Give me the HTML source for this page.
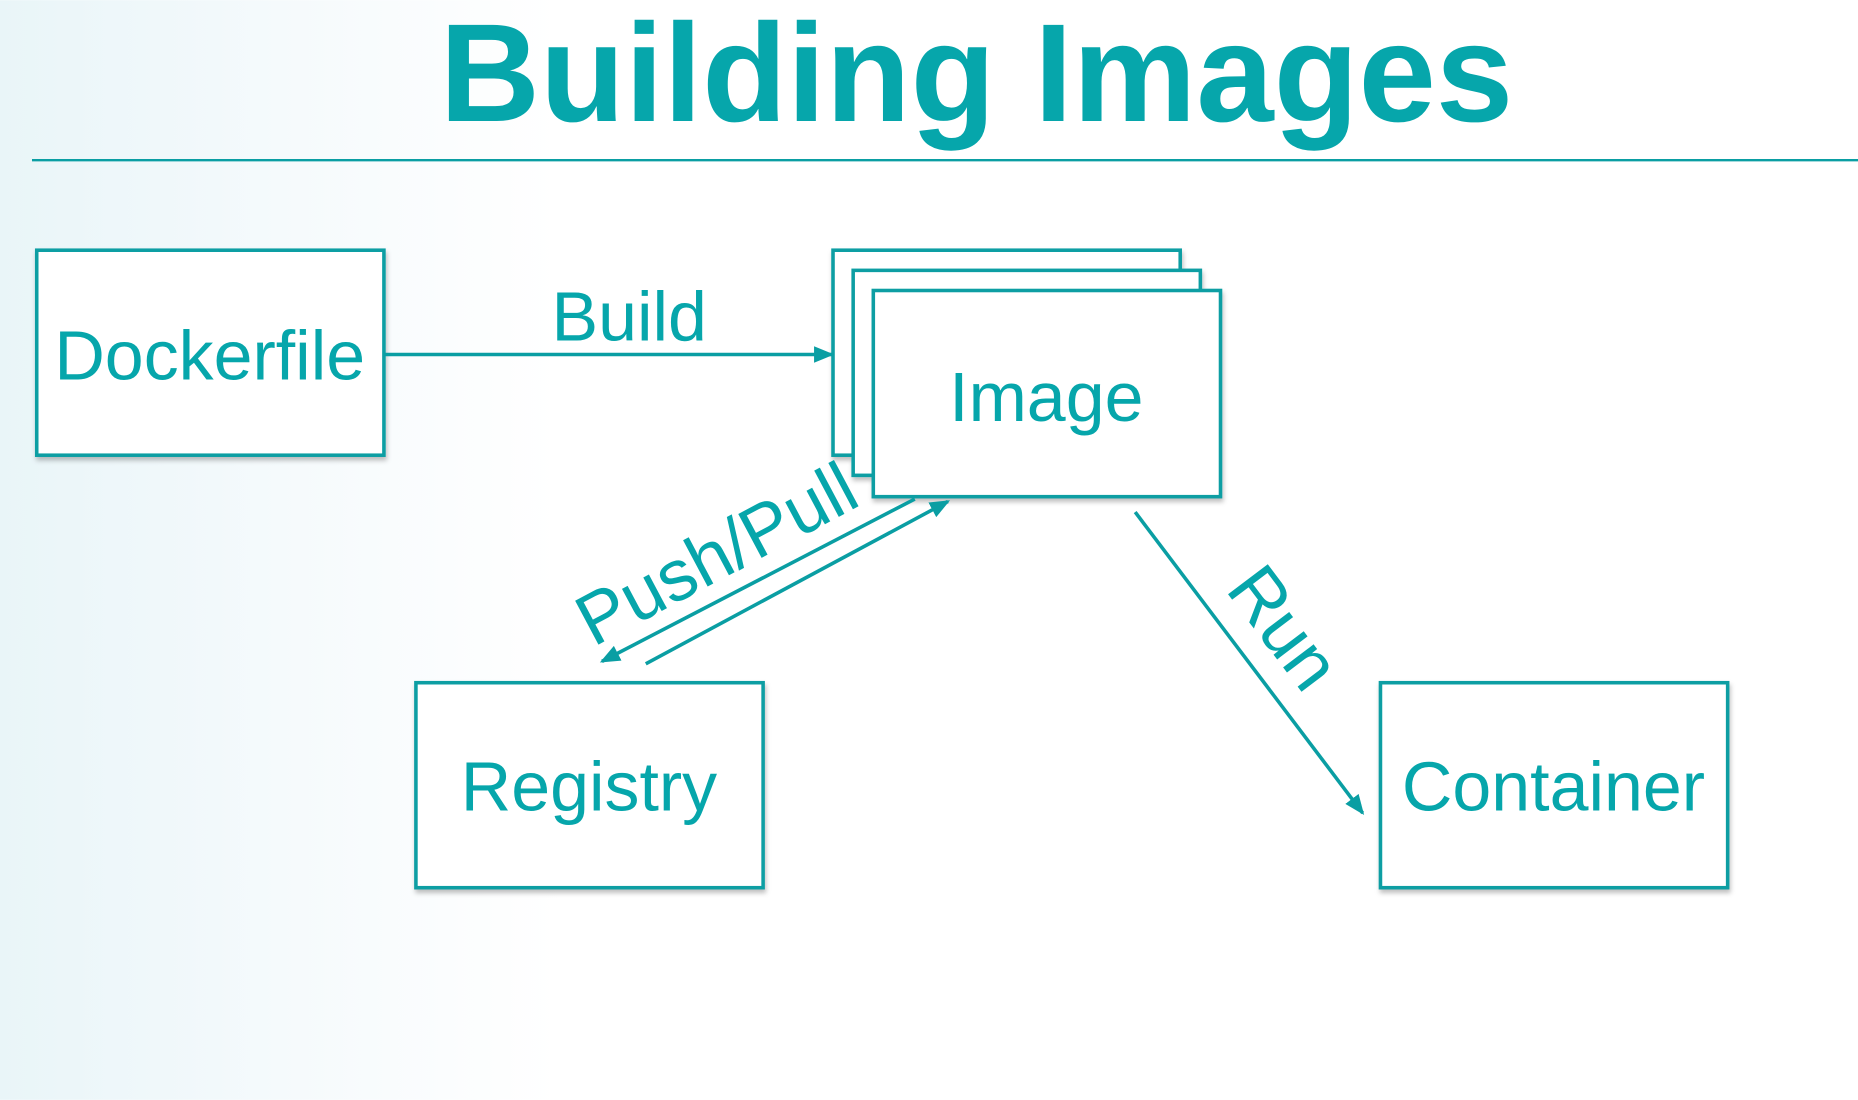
<!DOCTYPE html>
<html><head><meta charset="utf-8"><style>
html,body{margin:0;padding:0;width:1858px;height:1100px;overflow:hidden;background:#fff}
svg{display:block}
</style></head><body>
<svg width="1858" height="1100" viewBox="0 0 1568 928" xmlns="http://www.w3.org/2000/svg" font-family="Liberation Sans, sans-serif">
<defs>
<linearGradient id="bg" x1="0" y1="0" x2="1" y2="0">
<stop offset="0" stop-color="#e9f5f8"/><stop offset="0.15" stop-color="#f5fafc"/><stop offset="0.3" stop-color="#ffffff"/>
</linearGradient>
<filter id="sh" x="-10%" y="-10%" width="130%" height="130%"><feDropShadow dx="1" dy="3" stdDeviation="2" flood-color="#000" flood-opacity="0.25"/></filter>
<marker id="ah" markerWidth="18" markerHeight="14" refX="15" refY="7" orient="auto" markerUnits="userSpaceOnUse"><path d="M0,0 L17,7 L0,14 z" fill="#0a9ea3"/></marker>
</defs>
<rect width="1568" height="928" fill="url(#bg)"/>
<text x="824" y="102" font-size="118" font-weight="bold" fill="#06a6ab" text-anchor="middle" textLength="906" lengthAdjust="spacingAndGlyphs">Building Images</text>
<line x1="27" y1="135" x2="1568" y2="135" stroke="#0a9ea3" stroke-width="2"/>
<g stroke="#0a9ea3" stroke-width="3" fill="#fff" filter="url(#sh)">
<rect x="31" y="211" width="293" height="173"/>
<rect x="703" y="211" width="293" height="173"/>
<rect x="720" y="228" width="293" height="173"/>
<rect x="737" y="245" width="293" height="174"/>
<rect x="351" y="576" width="293" height="173"/>
<rect x="1165" y="576" width="293" height="173"/>
</g>
<g fill="#06a6ab" font-size="59" text-anchor="middle">
<text x="177" y="320">Dockerfile</text>
<text x="883" y="355">Image</text>
<text x="497" y="684">Registry</text>
<text x="1311" y="684">Container</text>
<text x="531" y="287">Build</text>
<text transform="translate(605,468) rotate(-28)" x="0" y="20" font-size="61">Push/Pull</text>
<text transform="translate(1083,530) rotate(53)" x="0" y="20" font-size="61">Run</text>
</g>
<g stroke="#0a9ea3" stroke-width="3" fill="none">
<line x1="324" y1="299" x2="702" y2="299" marker-end="url(#ah)"/>
<line x1="772" y1="421" x2="508" y2="558" marker-end="url(#ah)"/>
<line x1="545" y1="560" x2="800" y2="423" marker-end="url(#ah)"/>
<line x1="958" y1="432" x2="1150" y2="686" marker-end="url(#ah)"/>
</g>
</svg>
</body></html>
